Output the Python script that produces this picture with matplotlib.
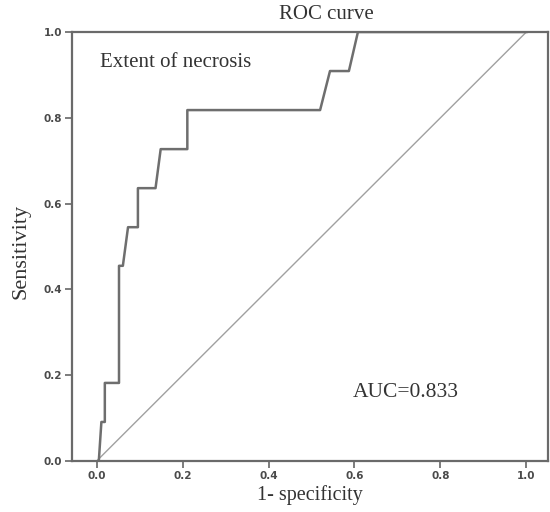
import matplotlib
matplotlib.use("Agg")
import matplotlib.pyplot as plt

# ROC curve points
fpr = [0.005, 0.011, 0.019, 0.019, 0.052, 0.052, 0.061, 0.073, 0.096, 0.096,
       0.137, 0.149, 0.211, 0.211, 0.520, 0.543, 0.587, 0.608, 1.0]
tpr = [0.0, 0.091, 0.091, 0.182, 0.182, 0.455, 0.455, 0.545, 0.545, 0.636,
       0.636, 0.727, 0.727, 0.818, 0.818, 0.909, 0.909, 1.0, 1.0]
ref_x = [0, 1]
ref_y = [0, 1]

xticks = [0.0, 0.2, 0.4, 0.6, 0.8, 1.0]
yticks = [0.0, 0.2, 0.4, 0.6, 0.8, 1.0]

serif = "Liberation Serif"

fig = plt.figure(figsize=(5.5, 5.12), dpi=100)
ax = fig.add_axes([0.1309, 0.0996, 0.8655, 0.8379])

ax.plot(ref_x, ref_y, color="#a0a0a0", lw=1.0)
ax.plot(fpr, tpr, color="#6e6e6e", lw=1.8)

ax.set_xlim(-0.0574, 1.0504)
ax.set_ylim(0, 1)
ax.set_xticks(xticks)
ax.set_yticks(yticks)
ax.set_xticklabels(["%.1f" % t for t in xticks])
ax.set_yticklabels(["%.1f" % t for t in yticks])
ax.tick_params(direction="out", length=5, width=1.2, colors="#666666",
               labelsize=7.5, labelcolor="#4a4a4a", pad=2)
for lab in ax.get_xticklabels() + ax.get_yticklabels():
    lab.set_fontweight("bold")

for s in ax.spines.values():
    s.set_color("#6a6a6a")
    s.set_linewidth(1.6)

ax.text(0.007, 0.93, "Extent of necrosis", fontsize=15, family=serif,
        color="#333333", ha="left", va="center")
ax.text(0.595, 0.16, "AUC=0.833", fontsize=15.5, family=serif,
        color="#333333", ha="left", va="center")

fig.text(0.593, 0.971, "ROC curve", fontsize=15, family=serif,
         color="#333333", ha="center", va="center")
fig.text(0.5627, 0.033, "1- specificity", fontsize=14.5, family=serif,
         color="#333333", ha="center", va="center")
fig.text(0.038, 0.508, "Sensitivity", fontsize=16, family=serif,
         color="#333333", ha="center", va="center", rotation=90)

fig.savefig("out.png", dpi=100)
